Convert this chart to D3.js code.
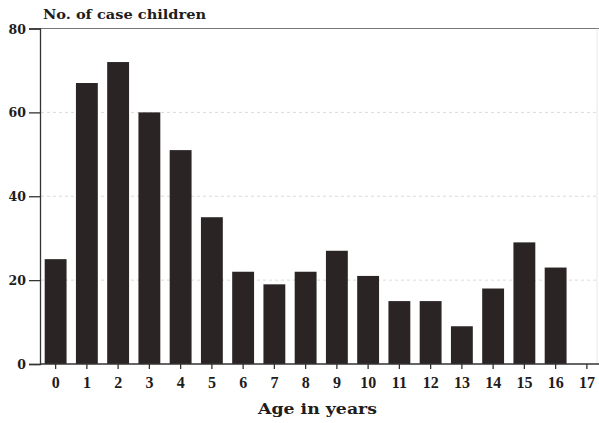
<!DOCTYPE html>
<html><head><meta charset="utf-8">
<script src="https://cdn.jsdelivr.net/npm/d3@7"></script>
<style>body{margin:0;background:#fff}svg{display:block}text{font-family:"DejaVu Serif","Liberation Serif",serif;font-weight:bold;fill:#1f1c1c}</style>
</head><body>
<svg id="c" width="599" height="423"></svg>
<script>
const ages = ["0","1","2","3","4","5","6","7","8","9","10","11","12","13","14","15","16","17"];
const cases = [25,67,72,60,51,35,22,19,22,27,21,15,15,9,18,29,23,0];
const yTicks = [0,20,40,60,80];

const svg = d3.select("#c");
const x = d3.scaleBand().domain(ages).range([40,602.5]).paddingInner(0.3).paddingOuter(0.15);
const y = d3.scaleLinear().domain([0,80]).range([364,28.5]);

// gridlines
svg.append("g").selectAll("line").data(yTicks.filter(d=>d>0&&d<80)).join("line")
  .attr("x1",41).attr("x2",597).attr("y1",d=>y(d)).attr("y2",d=>y(d))
  .attr("stroke","#dadada").attr("stroke-width",1).attr("stroke-dasharray","3,3");
// top line
svg.append("line").attr("x1",40).attr("x2",599).attr("y1",y(80)).attr("y2",y(80))
  .attr("stroke","#777").attr("stroke-width",1);
// right faint border
svg.append("line").attr("x1",597).attr("x2",597).attr("y1",y(80)).attr("y2",y(0))
  .attr("stroke","#e8e8e8").attr("stroke-width",1);

// bars
svg.append("g").selectAll("rect").data(ages.map((a,i)=>({a,v:cases[i]}))).join("rect")
  .attr("x",d=>x(d.a)).attr("width",x.bandwidth())
  .attr("y",d=>y(d.v)).attr("height",d=>y(0)-y(d.v))
  .attr("fill","#2a2524");

// y axis
const ya = svg.append("g").attr("transform","translate(40,0)")
  .call(d3.axisLeft(y).tickValues(yTicks).tickSize(11).tickPadding(3));
ya.select(".domain").attr("stroke","#333").attr("stroke-width",1.3);
ya.selectAll(".tick line").attr("stroke","#333").attr("stroke-width",1.3);
ya.selectAll(".tick text").style("font-size","12.5px").attr("dy","0.36em");

// x axis
const xa = svg.append("g").attr("transform",`translate(0,${y(0)})`)
  .call(d3.axisBottom(x).tickSize(5).tickPadding(8));
xa.select(".domain").attr("d","M40,0H599").attr("stroke","#333").attr("stroke-width",1.3);
xa.selectAll(".tick line").attr("stroke","#333").attr("stroke-width",1.3);
xa.selectAll(".tick text").style("font-family","'Liberation Serif',serif").style("font-size","16px");

// titles
svg.append("text").attr("x",43).attr("y",19).style("font-size","12.5px")
  .attr("textLength",163).attr("lengthAdjust","spacingAndGlyphs").text("No. of case children");
svg.append("text").attr("x",258).attr("y",414).style("font-size","15.5px")
  .attr("textLength",119).attr("lengthAdjust","spacingAndGlyphs").text("Age in years");
</script>
</body></html>
